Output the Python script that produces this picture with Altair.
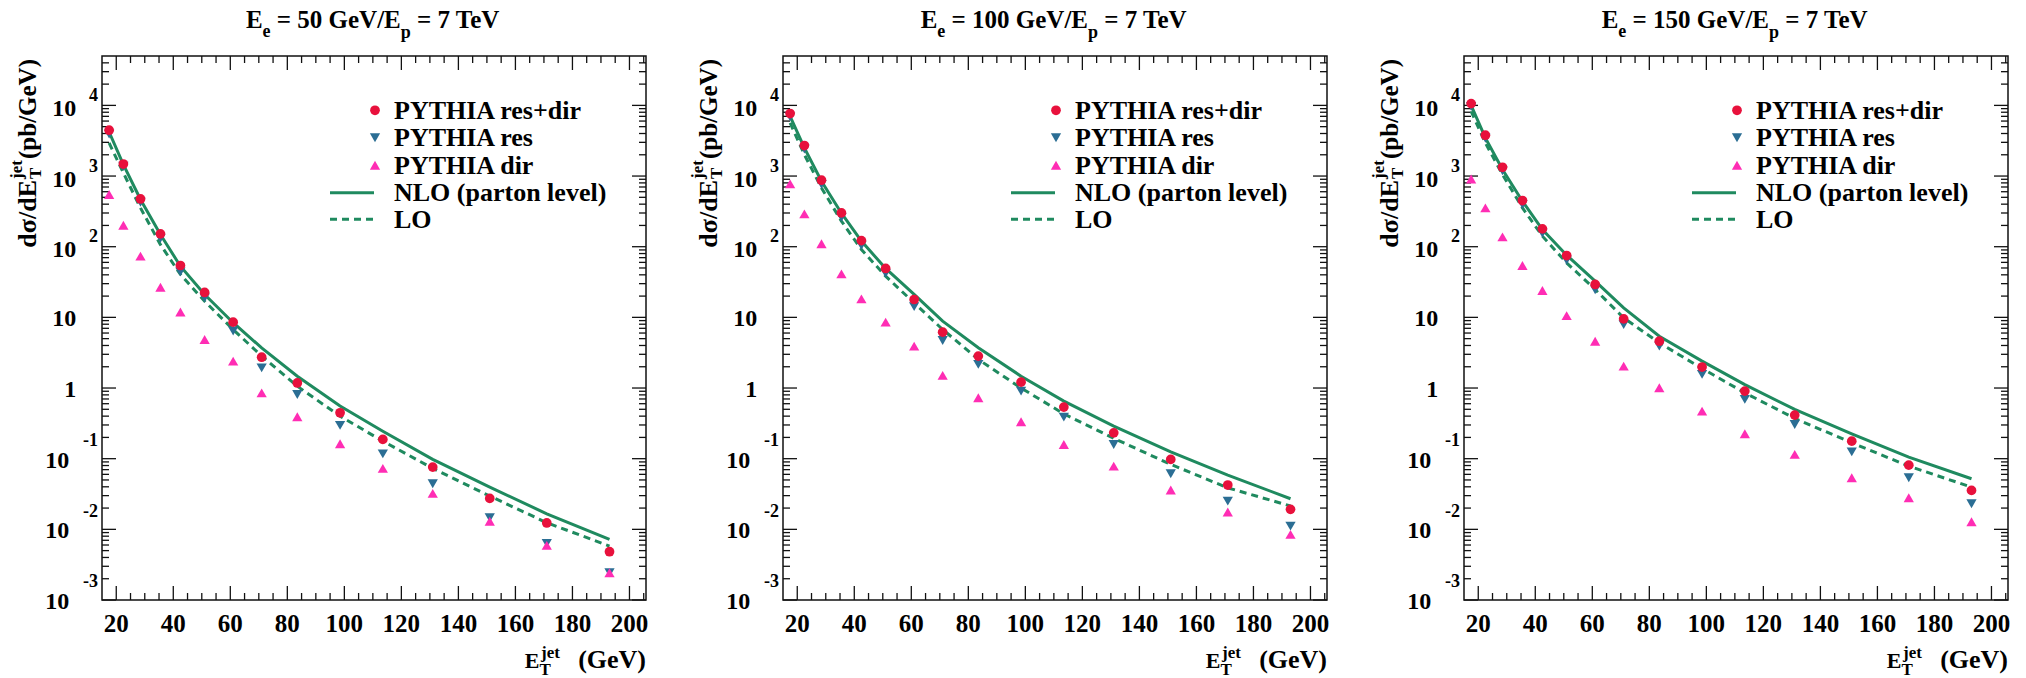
import altair as alt
import pandas as pd

# ---------------- data ----------------
ET = [17.5, 22.5, 28.5, 35.5, 42.5, 51, 61, 71, 83.5, 98.5, 113.5, 131, 151, 171, 193]

energies = ["50", "100", "150"]

resdir_50 = [4450, 1480, 474, 152, 54.2, 22.5, 8.55, 2.73, 1.18, 0.446, 0.1875, 0.076, 0.0274, 0.0123, 0.00482]
res_50 = [3940, 1377, 426, 131, 44, 18.9, 6.4, 1.93, 0.81, 0.296, 0.117, 0.0441, 0.0146, 0.00634, 0.00243]
dir_50 = [547, 201, 73.5, 26.7, 11.9, 4.87, 2.40, 0.855, 0.392, 0.163, 0.0730, 0.0323, 0.0130, 0.00594, 0.00243]
nlo_50 = [4200, 1450, 466, 149, 53, 21.1, 8.4, 3.7, 1.47, 0.555, 0.245, 0.0977, 0.0396, 0.0166, 0.00721]
lo_50 = [2940, 1107, 354, 107, 40.5, 16.9, 6.74, 2.83, 1.06, 0.40, 0.177, 0.073, 0.0296, 0.0124, 0.0058]

resdir_100 = [7660, 2700, 873, 301, 122, 49.2, 17.9, 6.18, 2.83, 1.21, 0.537, 0.232, 0.0977, 0.0424, 0.0192]
res_100 = [6890, 2410, 763, 260, 104, 42, 14.2, 4.7, 2.16, 0.904, 0.387, 0.159, 0.0612, 0.0251, 0.0111]
dir_100 = [774, 291, 110, 41.2, 18.3, 8.55, 3.92, 1.51, 0.728, 0.333, 0.159, 0.0785, 0.036, 0.0176, 0.0085]
nlo_100 = [7000, 2500, 843, 298, 120, 49.2, 21.1, 8.83, 3.71, 1.47, 0.653, 0.289, 0.125, 0.0586, 0.0271]
lo_100 = [5640, 2010, 679, 230, 91.2, 38.3, 16.0, 6.74, 2.54, 1.0, 0.431, 0.194, 0.083, 0.0387, 0.0214]

resdir_150 = [10600, 3780, 1330, 450, 179, 75, 29.2, 9.53, 4.6, 1.98, 0.904, 0.414, 0.177, 0.081, 0.0356]
res_150 = [9700, 3430, 1190, 396, 155, 64.4, 24.6, 7.9, 3.92, 1.56, 0.69, 0.305, 0.125, 0.0537, 0.023]
dir_150 = [910, 354, 138, 54.2, 24.0, 10.6, 4.6, 2.04, 1.01, 0.471, 0.225, 0.115, 0.0537, 0.028, 0.0128]
nlo_150 = [10000, 3460, 1236, 440, 175, 75.9, 32.5, 13.6, 5.4, 2.40, 1.12, 0.498, 0.225, 0.105, 0.052]
lo_150 = [8240, 2940, 1050, 354, 141, 59, 24.8, 9.84, 4.36, 1.89, 0.855, 0.372, 0.168, 0.0785, 0.0396]

RESDIR = [resdir_50, resdir_100, resdir_150]
RES = [res_50, res_100, res_150]
DIR = [dir_50, dir_100, dir_150]
NLO = [nlo_50, nlo_100, nlo_150]
LO = [lo_50, lo_100, lo_150]

legend_labels = ["PYTHIA res+dir", "PYTHIA res", "PYTHIA dir", "NLO (parton level)", "LO"]

x_major = [20, 40, 60, 80, 100, 120, 140, 160, 180, 200]
x_labels = ["20", "40", "60", "80", "100", "120", "140", "160", "180", "200"]
x_minor = [25, 30, 35, 45, 50, 55, 65, 70, 75, 85, 90, 95, 105, 110, 115, 125, 130, 135,
           145, 150, 155, 165, 170, 175, 185, 190, 195, 205]
y_major = [1e4, 1e3, 1e2, 10, 1, 0.1, 0.01, 0.001]
y_base = ["10", "10", "10", "10", "1", "10", "10", "10"]
y_exp = ["4", "3", "2", "", "", "-1", "-2", "-3"]
y_minor = [m * 10.0 ** e for e in range(-3, 5) for m in range(2, 10) if m * 10.0 ** e < 4.6e4]

# ---------------- style ----------------
RED = "#e8113c"
BLUE = "#2b6e94"
PINK = "#ff2db4"
GREEN = "#1f8a5f"
INK = "#111111"
FONT = "'Liberation Serif', 'Times New Roman', Times, serif"
W = 544
H = 544
XS = alt.Scale(domain=[15, 205.8], nice=False, zero=False)
YS = alt.Scale(type="log", domain=[1e-3, 5e4], nice=False)

# Times-Bold advance widths (per 1000 em) for layout of multi-piece texts
TW = {" ": 250, "(": 333, ")": 333, "+": 570, "/": 278, "=": 570, "A": 722, "E": 667,
      "G": 778, "H": 778, "I": 389, "L": 667, "N": 722, "O": 778, "P": 611, "T": 667,
      "V": 722, "Y": 722, "a": 500, "b": 556, "d": 556, "e": 444, "i": 278, "j": 333,
      "l": 278, "n": 556, "o": 500, "p": 556, "r": 444, "s": 389, "t": 333, "v": 500}


def tw(s, size):
    return sum(TW.get(c, 500) for c in s) * size / 1000.0


def txt(s, x, y, size, align="left", angle=None, color="black"):
    kw = dict(font=FONT, fontWeight="bold", fontSize=size, align=align,
              baseline="alphabetic", color=color)
    if angle is not None:
        kw["angle"] = angle
    return alt.Chart(pd.DataFrame({"t": [s]})).mark_text(**kw).encode(
        x=alt.value(x), y=alt.value(y), text="t:N")


def pieces_row(parts, center_x):
    total = sum(tw(s, sz) for s, sz, _ in parts)
    cur = center_x - total / 2.0
    out = []
    for s, sz, y in parts:
        lead = len(s) - len(s.lstrip())
        out.append(txt(s.strip(), cur + tw(" " * lead, sz), y, sz))
        cur += tw(s, sz)
    return out


def panel(i):
    df = pd.DataFrame({"ET": ET, "resdir": RESDIR[i], "res": RES[i], "dir": DIR[i],
                       "nlo": NLO[i], "lo": LO[i]})
    base = alt.Chart(df)
    X = alt.X("ET:Q", scale=XS, axis=None)
    layers = []

    # ticks (ROOT style, inside, on all four sides)
    xmaj = alt.Chart(pd.DataFrame({"v": x_major, "lab": x_labels}))
    xmin = alt.Chart(pd.DataFrame({"v": x_minor}))
    ymaj = alt.Chart(pd.DataFrame({"v": y_major, "b": y_base, "e": y_exp}))
    ymin = alt.Chart(pd.DataFrame({"v": y_minor}))
    XV = alt.X("v:Q", scale=XS, axis=None)
    YV = alt.Y("v:Q", scale=YS, axis=None)
    tk = dict(color=INK, strokeWidth=1.3)
    layers += [
        xmaj.mark_rule(**tk).encode(x=XV, y=alt.value(H), y2=alt.value(H - 14)),
        xmaj.mark_rule(**tk).encode(x=XV, y=alt.value(0), y2=alt.value(14)),
        xmin.mark_rule(**tk).encode(x=XV, y=alt.value(H), y2=alt.value(H - 7)),
        xmin.mark_rule(**tk).encode(x=XV, y=alt.value(0), y2=alt.value(7)),
        ymaj.mark_rule(**tk).encode(y=YV, x=alt.value(0), x2=alt.value(14)),
        ymaj.mark_rule(**tk).encode(y=YV, x=alt.value(W), x2=alt.value(W - 14)),
        ymin.mark_rule(**tk).encode(y=YV, x=alt.value(0), x2=alt.value(7)),
        ymin.mark_rule(**tk).encode(y=YV, x=alt.value(W), x2=alt.value(W - 7)),
    ]

    # tick labels
    lab = dict(font=FONT, fontWeight="bold", color="black", baseline="alphabetic")
    layers.append(xmaj.mark_text(fontSize=25, align="center", **lab).encode(
        x=XV, y=alt.value(H + 32), text="lab:N"))
    pos = ymaj.transform_filter("datum.e != '' && indexof(datum.e, '-') < 0")
    neg = ymaj.transform_filter("indexof(datum.e, '-') == 0")
    plain = ymaj.transform_filter("datum.e == ''")
    layers += [
        pos.mark_text(fontSize=24, align="right", dy=10.6, **lab).encode(
            y=YV, x=alt.value(-25.7), text="b:N"),
        plain.mark_text(fontSize=24, align="right", dy=8.8, **lab).encode(
            y=YV, x=alt.value(-25.7), text="b:N"),
        neg.mark_text(fontSize=24, align="right", dy=9.0, **lab).encode(
            y=YV, x=alt.value(-32.7), text="b:N"),
        pos.mark_text(fontSize=18, align="right", dy=-4.3, **lab).encode(
            y=YV, x=alt.value(-4), text="e:N"),
        neg.mark_text(fontSize=18, align="right", dy=-12.8, **lab).encode(
            y=YV, x=alt.value(-4), text="e:N"),
    ]

    # curves and points
    layers += [
        base.mark_line(color=GREEN, strokeWidth=3).encode(
            x=X, y=alt.Y("nlo:Q", scale=YS, axis=None)),
        base.mark_line(color=GREEN, strokeWidth=3, strokeDash=[7, 5]).encode(
            x=X, y=alt.Y("lo:Q", scale=YS, axis=None)),
        base.mark_point(shape="triangle-down", filled=True, size=105, opacity=1, color=BLUE).encode(
            x=X, y=alt.Y("res:Q", scale=YS, axis=None)),
        base.mark_point(shape="triangle-up", filled=True, size=105, opacity=1, color=PINK).encode(
            x=X, y=alt.Y("dir:Q", scale=YS, axis=None)),
        base.mark_point(shape="circle", filled=True, size=95, opacity=1, color=RED).encode(
            x=X, y=alt.Y("resdir:Q", scale=YS, axis=None)),
    ]

    # legend
    rows = [54.3, 81.7, 109.3, 136.7, 163.3]
    one = alt.Chart(pd.DataFrame({"k": [0]}))
    layers += [
        one.mark_point(shape="circle", filled=True, size=95, opacity=1, color=RED).encode(
            x=alt.value(273), y=alt.value(rows[0])),
        one.mark_point(shape="triangle-down", filled=True, size=105, opacity=1, color=BLUE).encode(
            x=alt.value(273), y=alt.value(rows[1])),
        one.mark_point(shape="triangle-up", filled=True, size=105, opacity=1, color=PINK).encode(
            x=alt.value(273), y=alt.value(rows[2])),
        one.mark_rule(color=GREEN, strokeWidth=3).encode(
            x=alt.value(228), x2=alt.value(272), y=alt.value(rows[3])),
        one.mark_rule(color=GREEN, strokeWidth=3, strokeDash=[7, 5]).encode(
            x=alt.value(228), x2=alt.value(272), y=alt.value(rows[4])),
    ]
    for lbl, r in zip(legend_labels, rows):
        layers.append(txt(lbl, 292, r + 8.5, 26))

    # panel title  E_e = .. GeV/E_p = 7 TeV
    layers += pieces_row([("E", 25, -28), ("e", 18, -19), (" = %s GeV/E" % energies[i], 25, -28),
                          ("p", 18, -18), (" = 7 TeV", 25, -28)], W / 2.0)

    # y axis title  dσ/dE_T^jet(pb/GeV), rotated (reads bottom to top)
    layers += [
        txt("dσ/dE", -65.6, 124.0, 26, align="right", angle=270),
        txt("jet", -80.5, 123.0, 17, align="left", angle=270),
        txt("T", -61.0, 123.0, 17, align="left", angle=270),
        txt("(pb/GeV)", -65.6, 103.0, 25, align="left", angle=270),
    ]

    # x axis title  E_T^jet (GeV)
    layers += [
        txt("E", 422.7, 67.7 + H, 22),
        txt("jet", 439.0, 57.7 + H, 17),
        txt("T", 437.5, 75.0 + H, 17),
        txt("(GeV)", W, 67.7 + H, 26, align="right"),
    ]

    if i == 0:
        # white anchor at the page corner so that the layout starts where the reference does
        layers.append(one.mark_rule(color="white", strokeWidth=1).encode(
            x=alt.value(-100.2), y=alt.value(-54.5), y2=alt.value(60)))

    return alt.layer(*layers).properties(width=W, height=H)


chart = alt.hconcat(panel(0), panel(1), panel(2), spacing=137, bounds="flush").properties(
    padding=0
).configure_view(stroke=INK, strokeWidth=1.5)

chart.save("out.html", embed_options={"renderer": "svg", "actions": False})
